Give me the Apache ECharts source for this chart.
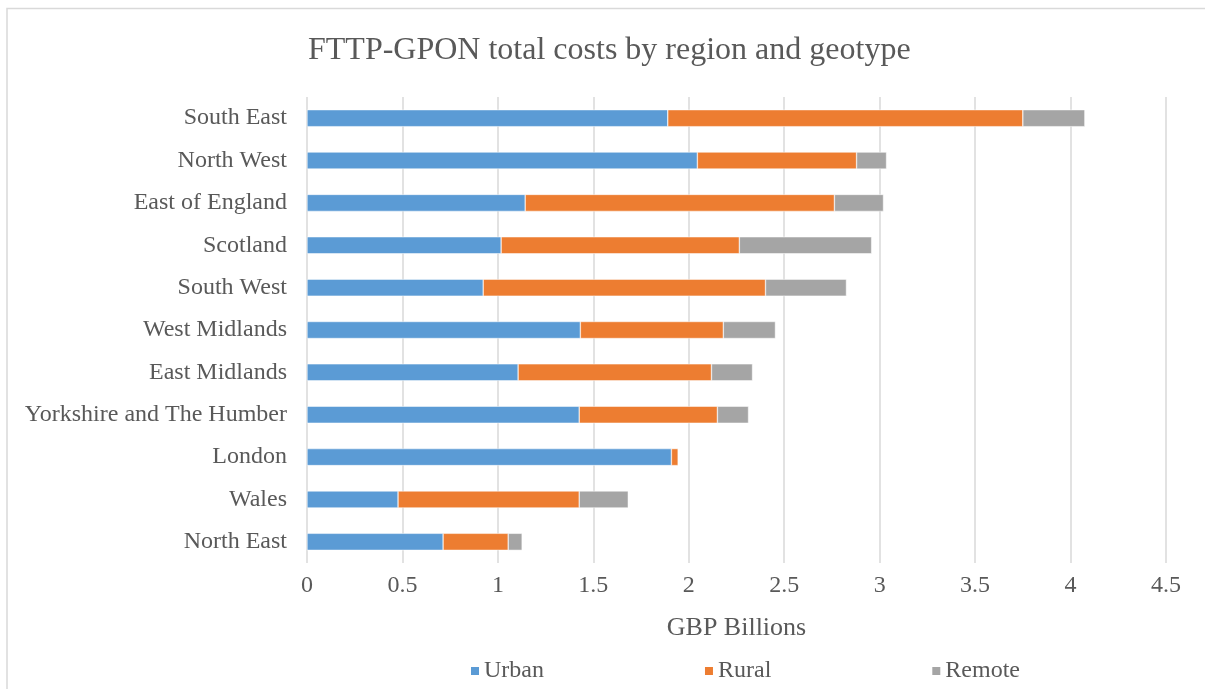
<!DOCTYPE html>
<html>
<head>
<meta charset="utf-8">
<script src="https://cdn.jsdelivr.net/npm/echarts@6/dist/echarts.min.js"></script>
<style>
  html, body { margin: 0; padding: 0; background: #fff; }
  #chart { width: 1205px; height: 689px; }
</style>
</head>
<body>
<div id="chart"></div>
<script>
// regions, top to bottom
var regions = ['South East', 'North West', 'East of England', 'Scotland', 'South West',
    'West Midlands', 'East Midlands', 'Yorkshire and The Humber', 'London', 'Wales', 'North East'];
var urban  = [1.89, 2.045, 1.143, 1.017, 0.923, 1.432, 1.106, 1.426, 1.909, 0.477, 0.713];
var rural  = [1.86, 0.834, 1.62, 1.248, 1.479, 0.749, 1.013, 0.724, 0.036, 0.949, 0.341];
var remote = [0.325, 0.157, 0.257, 0.693, 0.424, 0.273, 0.215, 0.163, 0, 0.257, 0.073];
var xTicks = [0, 0.5, 1, 1.5, 2, 2.5, 3, 3.5, 4, 4.5];

var font = '"Liberation Serif", "Times New Roman", serif';
var textColor = '#595959';

var myChart = echarts.init(document.getElementById('chart'));

function barSeries(name, data, color) {
    return {
        name: name,
        type: 'bar',
        stack: 'total',
        barWidth: 17,
        itemStyle: { color: color, borderColor: '#fff', borderWidth: 0.5 },
        data: data
    };
}

var option = {
    backgroundColor: '#fff',
    animation: false,
    graphic: [{
        type: 'rect',
        shape: { x: 7, y: 8.5, width: 1400, height: 900 },
        style: { fill: 'none', stroke: '#d9d9d9', lineWidth: 1.5 },
        silent: true
    }],
    title: {
        text: 'FTTP-GPON total costs by region and geotype',
        left: 303,
        top: 30,
        textStyle: { fontFamily: font, fontSize: 32, fontWeight: 'normal', color: textColor }
    },
    legend: {
        left: 464,
        top: 654,
        itemWidth: 10,
        itemHeight: 10,
        itemGap: 159,
        icon: 'rect',
        textStyle: { fontFamily: font, fontSize: 24, color: textColor, padding: [0, 0, 0, -1] },
        data: ['Urban', 'Rural', 'Remote']
    },
    grid: { left: 307, right: 39, top: 97, bottom: 126, containLabel: false },
    xAxis: {
        type: 'value',
        min: xTicks[0],
        max: xTicks[xTicks.length - 1],
        interval: 0.5,
        name: 'GBP Billions',
        nameLocation: 'middle',
        nameGap: 52,
        nameTextStyle: { fontFamily: font, fontSize: 26, color: textColor },
        axisLine: { show: false },
        axisTick: { show: false },
        axisLabel: { fontFamily: font, fontSize: 24, color: textColor, margin: 11 },
        splitLine: { show: true, lineStyle: { color: '#d9d9d9', width: 1.5 } }
    },
    yAxis: {
        type: 'category',
        inverse: true,
        data: regions,
        axisLine: { show: false },
        axisTick: { show: false },
        axisLabel: { fontFamily: font, fontSize: 24, color: textColor, margin: 20 }
    },
    series: [
        barSeries('Urban', urban, '#5b9bd5'),
        barSeries('Rural', rural, '#ed7d31'),
        barSeries('Remote', remote, '#a5a5a5')
    ]
};

myChart.setOption(option);
</script>
</body>
</html>
